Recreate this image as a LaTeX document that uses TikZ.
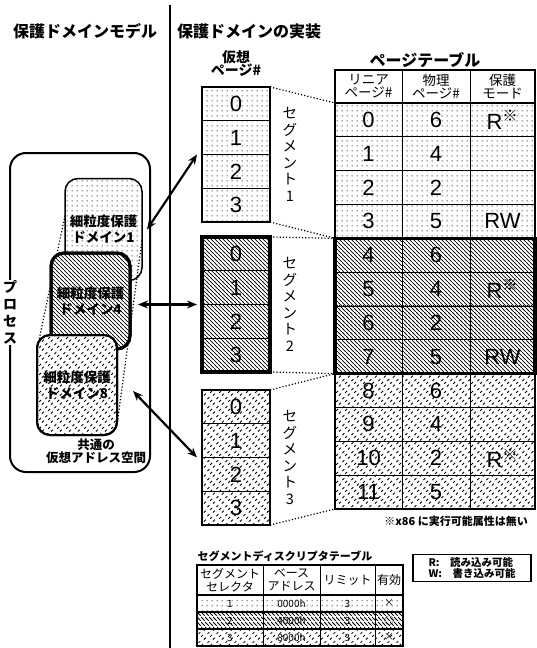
\documentclass[tikz,border=0pt]{standalone}
\usepackage{fontspec}
\setmainfont{Noto Sans CJK JP}
\newfontfamily\latinfont{Liberation Sans}
\usetikzlibrary{patterns.meta,arrows.meta,positioning}

\tikzdeclarepattern{name=sparsedots, type=uncolored,
  bounding box={(0pt,0pt) and (5pt,5pt)}, tile size={(5pt,5pt)},
  code={\fill (2.5pt,2.5pt) circle[radius=.65pt];}}
\tikzdeclarepattern{name=hatchnw, type=uncolored,
  bounding box={(0pt,0pt) and (4.4pt,4.4pt)}, tile size={(4.4pt,4.4pt)},
  code={\draw[line width=.9pt] (-.6pt,5pt) -- (5pt,-.6pt);}}
\tikzdeclarepattern{name=dashgrid, type=uncolored,
  bounding box={(0pt,0pt) and (9pt,9pt)}, tile size={(9pt,9pt)},
  code={\draw[line width=.9pt] (.5pt,6.5pt) -- (2.5pt,8.5pt) (3.5pt,3.5pt) -- (5.5pt,5.5pt) (6.5pt,.5pt) -- (8.5pt,2.5pt);}}

\newcommand\kome{\textsuperscript{\rmfamily ※}}

\tikzset{
  cell/.style={draw, line width=.9pt, inner sep=0pt, outer sep=0pt},
  vcell/.style={cell, minimum width=68pt, minimum height=33.75pt, font=\latinfont\fontsize{22}{22}\selectfont},
  pcell/.style={cell, minimum height=33.83pt, font=\latinfont\fontsize{22}{22}\selectfont},
  hcell/.style={cell, minimum height=33pt, align=center, font=\fontsize{13.5}{13}\selectfont},
  dcell/.style={cell, minimum height=17pt, font=\fontsize{10}{10}\selectfont},
  dhead/.style={cell, minimum height=30pt, align=center, font=\fontsize{12}{12.5}\selectfont},
  vlabel/.style={align=center, font=\fontsize{14.5}{16.5}\selectfont},
  dombox/.style={draw, rounded corners=13pt, inner sep=0pt, outer sep=0pt, align=center, font=\bfseries\fontsize{13.5}{16}\selectfont},
  dblarrow/.style={{Stealth[length=10pt,width=8pt]}-{Stealth[length=10pt,width=8pt]}, line width=2.2pt},
  dotline/.style={dotted, line width=1.2pt},
  title/.style={font=\bfseries\fontsize{16}{16}\selectfont},
}

\begin{document}
\begin{tikzpicture}[x=1pt,y=-1pt]
\useasboundingbox (0,0) rectangle (536,648);

\draw[line width=2.5pt] (170,5) -- (170,648);
\node[title] (modeltitle) at (85,31) {保護ドメインモデル};
\node[title] (impltitle) at (249,31) {保護ドメインの実装};
\node[align=center, font=\bfseries\fontsize{14}{13}\selectfont] (vphead) at (236,63) {仮想\\ページ\#};
\node[title] (pthead) at (425,60) {ページテーブル};

% virtual pages of the three segments
\foreach \s/\top/\pat/\lw in {A/87/sparsedots/2pt, B/237/hatchnw/3.5pt, C/390/dashgrid/2.2pt} {
  \foreach \v in {0,...,3}
    \node[vcell, pattern=\pat] (v\s\v) at (236,\top+16.875+33.75*\v) {\v};
  \draw[line width=\lw] (v\s0.north west) rectangle (v\s3.south east);
}
\node[vlabel, right=9pt of vA1.south east] (labA) {セ\\グ\\メ\\ン\\ト\\1};
\node[vlabel, right=9pt of vB1.south east] (labB) {セ\\グ\\メ\\ン\\ト\\2};
\node[vlabel, right=9pt of vC1.south east] (labC) {セ\\グ\\メ\\ン\\ト\\3};

% page table
\node[hcell, minimum width=67pt] (h1) at (368.5,86.5) {リニア\\ページ\#};
\node[hcell, minimum width=68pt] (h2) at (436,86.5) {物理\\ページ\#};
\node[hcell, minimum width=65pt] (h3) at (502.5,86.5) {保護\\モード};
\draw[line width=2pt] (h1.north west) rectangle (h3.south east);
\foreach \lin/\phy/\mode/\pat in {0/6/R\kome/sparsedots, 1/4/{}/sparsedots, 2/2/{}/sparsedots, 3/5/RW/sparsedots,
    4/6/{}/hatchnw, 5/4/R\kome/hatchnw, 6/2/{}/hatchnw, 7/5/RW/hatchnw,
    8/6/{}/dashgrid, 9/4/{}/dashgrid, 10/2/R\kome/dashgrid, 11/5/{}/dashgrid} {
  \node[pcell, minimum width=67pt, pattern=\pat] (l\lin) at (368.5,119.9+33.83*\lin) {\lin};
  \node[pcell, minimum width=68pt, pattern=\pat] (p\lin) at (436,119.9+33.83*\lin) {\phy};
  \node[pcell, minimum width=65pt, pattern=\pat] (m\lin) at (502.5,119.9+33.83*\lin) {\mode};
}
\draw[line width=2pt] (l0.north west) rectangle (m3.south east);
\draw[line width=2pt] (l8.north west) rectangle (m11.south east);
\draw[line width=3.5pt] (l4.north west) rectangle (m7.south east);
\node[font=\bfseries\fontsize{11}{11}\selectfont] (note) at (456,521) {※x86 に実行可能属性は無い};

\draw[dotline] (vA0.north east) -- (l0.north west);
\draw[dotline] (vA3.south east) -- (l3.south west);
\draw[dotline] (vB0.north east) -- (l4.north west);
\draw[dotline] (vB3.south east) -- (l7.south west);
\draw[dotline] (vC0.north east) -- (l8.north west);
\draw[dotline] (vC3.south east) -- (l11.south west);

% process and its protection domains
\node[draw, line width=2pt, rounded corners=16pt, minimum width=140pt, minimum height=319pt, outer sep=0pt] (proc) at (80,312.5) {};
\node[fill=white, inner sep=1pt, align=center, font=\bfseries\fontsize{14}{17}\selectfont] (proclab) at (proc.west) {プ\\ロ\\セ\\ス};
\node[dombox, line width=1.5pt, pattern=sparsedots, minimum width=77pt, minimum height=102pt] (dom1) at (103.5,229.5) {細粒度保護\\ドメイン1};
\draw[dotline] ([yshift=14pt]dom1.west) -- (38,345);
\draw[dotline] ([yshift=-11pt]dom1.east) -- (117,425);
\node[dombox, line width=3pt, fill=white, minimum width=79pt, minimum height=96pt] at (90.5,301) {};
\node[dombox, line width=3pt, pattern=hatchnw, minimum width=79pt, minimum height=96pt] (dom4) at (90.5,301) {細粒度保護\\ドメイン4};
\node[dombox, line width=2pt, fill=white, minimum width=80pt, minimum height=100pt] at (77,385) {};
\node[dombox, line width=2pt, pattern=dashgrid, minimum width=80pt, minimum height=100pt] (dom8) at (77,385) {細粒度保護\\ドメイン8};
\node[align=center, font=\bfseries\fontsize{12.5}{13}\selectfont] (common) at (96,451) {共通の\\仮想アドレス空間};

\draw[dblarrow] ([xshift=5pt]dom1.east) -- ([xshift=-5pt]vA1.south west);
\draw[dblarrow] ([xshift=8pt]dom4.east |- vB1.south west) -- ([xshift=-5pt]vB1.south west);
\draw[dblarrow] ([xshift=16pt,yshift=-6pt]dom8.east) -- ([xshift=-5pt]vC1.south west);

% segment descriptor table
\node[font=\bfseries\fontsize{11}{11}\selectfont] (dtitle) at (285,556) {セグメントディスクリプタテーブル};
\node[dhead, minimum width=66pt] (d1) at (230,580) {セグメント\\セレクタ};
\node[dhead, minimum width=57pt] (d2) at (291.5,580) {ベース\\アドレス};
\node[dhead, minimum width=55pt] (d3) at (347.5,580) {リミット};
\node[dhead, minimum width=28pt] (d4) at (389,580) {有効};
\foreach \sel/\base/\lim/\ok/\pat in {1/0000h/3/×/sparsedots, 2/4000h/3/○/hatchnw, 3/8000h/3/×/dashgrid} {
  \node[dcell, minimum width=66pt, pattern=\pat] (s\sel) at (230,586.5+17*\sel) {\sel};
  \node[dcell, minimum width=57pt, pattern=\pat] (b\sel) at (291.5,586.5+17*\sel) {\base};
  \node[dcell, minimum width=55pt, pattern=\pat] (r\sel) at (347.5,586.5+17*\sel) {\lim};
  \node[dcell, minimum width=28pt, pattern=\pat] (e\sel) at (389,586.5+17*\sel) {\ok};
}
\draw[line width=2pt] (d1.north west) rectangle (d4.south east);
\draw[line width=2pt] (d1.north west) rectangle (e3.south east);
\draw[line width=2.5pt] (s2.north west) rectangle (e2.south east);

\node[draw, line width=1.5pt, align=left, inner sep=3pt, minimum width=118pt, font=\bfseries\fontsize{10.5}{11}\selectfont] (legend) at (472,568) {R:\quad 読み込み可能\\W:\quad 書き込み可能};
\end{tikzpicture}
\end{document}
